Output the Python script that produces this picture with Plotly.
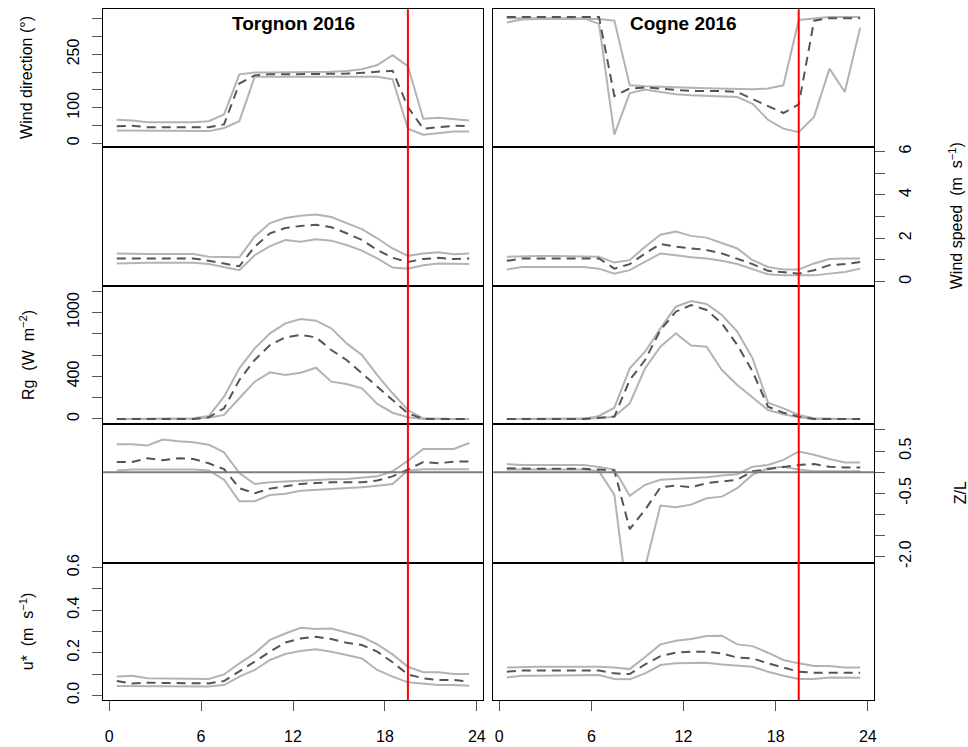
import plotly.graph_objects as go

hours = [0.5, 1.5, 2.5, 3.5, 4.5, 5.5, 6.5, 7.5, 8.5, 9.5, 10.5, 11.5,
         12.5, 13.5, 14.5, 15.5, 16.5, 17.5, 18.5, 19.5, 20.5, 21.5, 22.5, 23.5]
x_ticks = [0, 6, 12, 18, 24]
sunset_hour = 19.5
site_titles = ["Torgnon 2016", "Cogne 2016"]

# Wind direction (deg)
tor_wd_hi = [66, 64, 59, 59, 59, 59, 62, 81, 194, 199, 199, 199, 200, 200, 201, 203, 208, 220, 248, 217, 69, 72, 69, 64]
tor_wd_mean = [48, 49, 45, 45, 45, 45, 45, 53, 168, 191, 194, 194, 194, 194, 194, 196, 198, 202, 204, 102, 41, 45, 49, 48]
tor_wd_lo = [36, 36, 34, 34, 34, 34, 34, 43, 62, 187, 187, 187, 187, 187, 187, 187, 187, 187, 180, 41, 24, 29, 33, 33]
cog_wd_hi = [340, 348, 350, 350, 350, 350, 350, 345, 163, 160, 158, 157, 156, 155, 154, 153, 152, 154, 163, 347, 352, 355, 355, 355]
cog_wd_mean = [355, 355, 355, 355, 355, 355, 355, 133, 154, 157, 154, 151, 147, 147, 147, 144, 125, 104, 85, 109, 345, 352, 352, 352]
cog_wd_lo = [352, 352, 352, 352, 352, 352, 336, 24, 141, 151, 144, 138, 135, 133, 132, 130, 111, 66, 41, 31, 74, 210, 144, 325]

# Wind speed (m/s)
tor_ws_hi = [1.30, 1.27, 1.27, 1.27, 1.27, 1.27, 1.15, 1.12, 1.12, 2.08, 2.70, 2.93, 3.04, 3.09, 2.98, 2.70, 2.42, 2.00, 1.53, 1.19, 1.30, 1.35, 1.26, 1.30]
tor_ws_mean = [1.07, 1.07, 1.07, 1.07, 1.07, 1.07, 0.96, 0.84, 0.71, 1.61, 2.23, 2.47, 2.57, 2.62, 2.51, 2.23, 1.92, 1.46, 1.10, 0.91, 1.04, 1.10, 1.04, 1.07]
tor_ws_lo = [0.84, 0.87, 0.87, 0.87, 0.87, 0.87, 0.81, 0.68, 0.53, 1.22, 1.64, 1.92, 1.84, 1.95, 1.89, 1.69, 1.43, 1.07, 0.65, 0.60, 0.76, 0.84, 0.84, 0.81]
cog_ws_hi = [1.15, 1.18, 1.18, 1.18, 1.18, 1.18, 1.15, 0.88, 0.99, 1.61, 2.16, 2.31, 2.11, 2.03, 1.77, 1.53, 0.99, 0.68, 0.56, 0.56, 0.84, 1.04, 1.07, 1.07]
cog_ws_mean = [0.96, 1.07, 1.07, 1.07, 1.07, 1.07, 1.07, 0.60, 0.81, 1.30, 1.74, 1.61, 1.53, 1.46, 1.30, 1.07, 0.81, 0.50, 0.42, 0.37, 0.53, 0.76, 0.81, 0.91]
cog_ws_lo = [0.56, 0.68, 0.68, 0.68, 0.68, 0.68, 0.60, 0.37, 0.53, 0.91, 1.30, 1.22, 1.12, 1.07, 0.96, 0.81, 0.56, 0.34, 0.29, 0.29, 0.29, 0.37, 0.45, 0.60]

# Global radiation (W/m2)
tor_rg_hi = [0, 0, 0, 0, 0, 6, 28, 209, 475, 662, 803, 897, 938, 922, 850, 709, 600, 412, 241, 84, 6, 0, 0, 0]
tor_rg_mean = [0, 0, 0, 0, 0, 0, 16, 100, 366, 553, 694, 766, 788, 766, 647, 553, 428, 303, 178, 53, 0, 0, 0, 0]
tor_rg_lo = [0, 0, 0, 0, 0, 3, 12, 38, 194, 350, 438, 413, 434, 481, 350, 328, 288, 141, 59, 16, 0, 0, 0, 0]
cog_rg_hi = [0, 0, 0, 0, 0, 0, 28, 106, 475, 631, 850, 1053, 1106, 1078, 975, 819, 569, 153, 100, 38, 6, 0, 0, 0]
cog_rg_mean = [0, 0, 0, 0, 0, 0, 12, 22, 366, 553, 834, 1006, 1069, 1022, 897, 694, 444, 116, 59, 22, 0, 0, 0, 0]
cog_rg_lo = [0, 0, 0, 0, 0, 0, 6, 22, 147, 475, 678, 803, 688, 678, 459, 319, 203, 84, 44, 16, 0, 0, 0, 0]

# Stability Z/L
tor_zl_hi = [0.66, 0.66, 0.63, 0.77, 0.73, 0.71, 0.65, 0.47, -0.02, -0.28, -0.24, -0.22, -0.20, -0.18, -0.17, -0.16, -0.13, -0.10, 0.02, 0.27, 0.55, 0.55, 0.55, 0.69]
tor_zl_mean = [0.24, 0.24, 0.33, 0.28, 0.33, 0.31, 0.21, 0.07, -0.38, -0.50, -0.39, -0.34, -0.28, -0.26, -0.24, -0.24, -0.24, -0.20, -0.10, 0.06, 0.24, 0.21, 0.25, 0.25]
tor_zl_lo = [0.04, 0.06, 0.06, 0.06, 0.06, 0.06, 0.04, -0.18, -0.69, -0.69, -0.54, -0.51, -0.44, -0.42, -0.39, -0.38, -0.36, -0.32, -0.28, 0.04, 0.07, 0.07, 0.07, 0.07]
cog_zl_hi = [0.19, 0.17, 0.17, 0.17, 0.17, 0.17, 0.12, 0.06, -0.56, -0.30, -0.18, -0.16, -0.14, -0.12, -0.08, -0.05, 0.13, 0.17, 0.29, 0.49, 0.41, 0.31, 0.23, 0.23]
cog_zl_mean = [0.09, 0.08, 0.08, 0.08, 0.08, 0.08, 0.06, 0.04, -1.35, -0.89, -0.36, -0.32, -0.36, -0.26, -0.22, -0.18, 0.02, 0.07, 0.12, 0.17, 0.19, 0.13, 0.11, 0.11]
cog_zl_lo = [0.06, 0.06, 0.06, 0.06, 0.06, 0.06, 0.02, -0.54, -3.40, -2.25, -0.79, -0.83, -0.77, -0.62, -0.58, -0.38, -0.06, 0.09, 0.13, 0.06, 0.02, 0.02, 0.02, 0.02]

# Friction velocity u* (m/s)
tor_us_hi = [0.088, 0.092, 0.080, 0.080, 0.080, 0.080, 0.077, 0.098, 0.150, 0.197, 0.260, 0.290, 0.317, 0.311, 0.314, 0.295, 0.275, 0.239, 0.192, 0.134, 0.108, 0.108, 0.100, 0.100]
tor_us_mean = [0.067, 0.056, 0.059, 0.059, 0.059, 0.059, 0.056, 0.067, 0.111, 0.158, 0.205, 0.248, 0.267, 0.275, 0.264, 0.247, 0.236, 0.205, 0.155, 0.098, 0.080, 0.072, 0.072, 0.064]
tor_us_lo = [0.044, 0.044, 0.044, 0.044, 0.044, 0.044, 0.041, 0.048, 0.088, 0.119, 0.166, 0.194, 0.208, 0.216, 0.205, 0.189, 0.173, 0.119, 0.088, 0.061, 0.056, 0.048, 0.048, 0.045]
cog_us_hi = [0.131, 0.134, 0.134, 0.134, 0.134, 0.134, 0.134, 0.130, 0.123, 0.180, 0.239, 0.256, 0.264, 0.278, 0.280, 0.239, 0.231, 0.200, 0.166, 0.150, 0.138, 0.138, 0.131, 0.130]
cog_us_mean = [0.111, 0.116, 0.116, 0.116, 0.116, 0.116, 0.116, 0.103, 0.100, 0.145, 0.184, 0.200, 0.205, 0.205, 0.197, 0.177, 0.173, 0.150, 0.130, 0.111, 0.106, 0.106, 0.106, 0.106]
cog_us_lo = [0.084, 0.092, 0.092, 0.092, 0.092, 0.092, 0.095, 0.077, 0.075, 0.103, 0.142, 0.150, 0.150, 0.153, 0.145, 0.139, 0.134, 0.111, 0.092, 0.077, 0.077, 0.084, 0.083, 0.083]

# Y axis ticks (all tick marks) and labelled ticks per row
wd_ticks = [0, 50, 100, 150, 200, 250, 300, 350]
wd_label_vals = [0, 100, 250]
wd_labels = ["0", "100", "250"]
ws_ticks = [0, 1, 2, 3, 4, 5, 6]
ws_label_vals = [0, 2, 4, 6]
ws_labels = ["0", "2", "4", "6"]
rg_ticks = [0, 200, 400, 600, 800, 1000, 1200]
rg_label_vals = [0, 400, 1000]
rg_labels = ["0", "400", "1000"]
zl_ticks = [-2.0, -1.5, -1.0, -0.5, 0.0, 0.5, 1.0]
zl_label_vals = [-2.0, -0.5, 0.5]
zl_labels = ["-2.0", "-0.5", "0.5"]
us_ticks = [0, 0.1, 0.2, 0.3, 0.4, 0.5, 0.6]
us_label_vals = [0, 0.2, 0.4, 0.6]
us_labels = ["0.0", "0.2", "0.4", "0.6"]

W, H = 968, 747
FONT = "Liberation Sans, Arial, Helvetica, sans-serif"

rows = [
    dict(data=[(tor_wd_hi, tor_wd_lo, tor_wd_mean), (cog_wd_hi, cog_wd_lo, cog_wd_mean)],
         rng=[-9.3, 377], ticks=wd_ticks, lv=wd_label_vals, labels=wd_labels, side="left",
         title="Wind direction (°)"),
    dict(data=[(tor_ws_hi, tor_ws_lo, tor_ws_mean), (cog_ws_hi, cog_ws_lo, cog_ws_mean)],
         rng=[-0.2, 6.23], ticks=ws_ticks, lv=ws_label_vals, labels=ws_labels, side="right",
         title="Wind speed  (m  s<sup>−1</sup>)"),
    dict(data=[(tor_rg_hi, tor_rg_lo, tor_rg_mean), (cog_rg_hi, cog_rg_lo, cog_rg_mean)],
         rng=[-47, 1247], ticks=rg_ticks, lv=rg_label_vals, labels=rg_labels, side="left",
         title="Rg  (W  m<sup>−2</sup>)"),
    dict(data=[(tor_zl_hi, tor_zl_lo, tor_zl_mean), (cog_zl_hi, cog_zl_lo, cog_zl_mean)],
         rng=[-2.14, 1.14], ticks=zl_ticks, lv=zl_label_vals, labels=zl_labels, side="right",
         title="Z/L"),
    dict(data=[(tor_us_hi, tor_us_lo, tor_us_mean), (cog_us_hi, cog_us_lo, cog_us_mean)],
         rng=[-0.022, 0.6235], ticks=us_ticks, lv=us_label_vals, labels=us_labels, side="left",
         title="u*  (m  s<sup>−1</sup>)"),
]

# pixel geometry
col_px = [(102.7, 483.3), (492.7, 874.3)]
row_px = [(9.3, 146.5), (146.5, 286.0), (286.0, 424.0), (424.0, 562.5), (562.5, 700.0)]

fig = go.Figure()
layout = {}
GREY = "#b3b3b3"
DARK = "#555555"
TICKC = "#555555"

for r, row in enumerate(rows):
    for c in range(2):
        k = r * 2 + c + 1
        xa = "x" if k == 1 else f"x{k}"
        ya = "y" if k == 1 else f"y{k}"
        hi, lo, mean = row["data"][c]
        for series in (hi, lo):
            fig.add_trace(go.Scatter(x=hours, y=series, mode="lines", xaxis=xa, yaxis=ya,
                                     line=dict(color=GREY, width=2), showlegend=False,
                                     hoverinfo="skip"))
        fig.add_trace(go.Scatter(x=hours, y=mean, mode="lines", xaxis=xa, yaxis=ya,
                                 line=dict(color=DARK, width=2, dash="9px,6px"),
                                 showlegend=False, hoverinfo="skip"))
        x0, x1 = col_px[c]
        y0, y1 = row_px[r]
        bottom = (r == 4)
        layout["xaxis" if k == 1 else f"xaxis{k}"] = dict(
            domain=[x0 / W, x1 / W], anchor=ya, range=[-0.42, 24.42],
            automargin=False,
            showline=True, mirror=True, linecolor="black", linewidth=1.3,
            showgrid=False, zeroline=False,
            tickmode="array", tickvals=x_ticks,
            ticks="outside" if bottom else "", ticklen=10, tickcolor=TICKC,
            showticklabels=bottom, tickfont=dict(size=16, color="black", family=FONT),
            ticklabelstandoff=12,
        )
        show_y = (row["side"] == "left" and c == 0) or (row["side"] == "right" and c == 1)
        yax = dict(
            domain=[1 - y1 / H, 1 - y0 / H], anchor=xa, range=row["rng"],
            side=row["side"], automargin=False,
            showline=True, mirror=True, linecolor="black", linewidth=1.3,
            showgrid=False, zeroline=False,
            tickmode="array", tickvals=row["lv"], ticktext=row["labels"],
            ticks="outside" if show_y else "", ticklen=10, tickcolor=TICKC,
            showticklabels=show_y, tickangle=-90,
            tickfont=dict(size=16, color="black", family=FONT),
            ticklabelstandoff=6,
        )
        if show_y:
            yax["minor"] = dict(tickmode="array", tickvals=row["ticks"], ticks="outside",
                                ticklen=10, tickcolor=TICKC, showgrid=False)
        layout["yaxis" if k == 1 else f"yaxis{k}"] = yax

shapes = []
# zero line in Z/L panels
for c in range(2):
    k = 3 * 2 + c + 1
    shapes.append(dict(type="line", xref=f"x{k} domain", yref=f"y{k}", x0=0, x1=1, y0=0, y1=0,
                       line=dict(color="#7f7f7f", width=2), layer="above"))
# red vertical line (sunset) spanning each column
for c in range(2):
    k = c + 1
    xa = "x" if k == 1 else f"x{k}"
    shapes.append(dict(type="line", xref=xa, yref="paper", x0=sunset_hour, x1=sunset_hour,
                       y0=1 - row_px[4][1] / H, y1=1 - row_px[0][0] / H,
                       line=dict(color="#ff0000", width=2), layer="above"))

annotations = []
for c in range(2):
    x0, x1 = col_px[c]
    annotations.append(dict(text=f"<b>{site_titles[c]}</b>", xref="paper", yref="paper",
                            x=(x0 + x1) / 2 / W, y=1 - 23 / H, showarrow=False,
                            xanchor="center", yanchor="middle",
                            font=dict(size=19, color="black", family=FONT)))
title_x = {"left": 27, "right": 956}
for r, row in enumerate(rows):
    y0, y1 = row_px[r]
    xp = title_x[row["side"]]
    if r == 3:
        xp = 960
    annotations.append(dict(text=row["title"], xref="paper", yref="paper",
                            x=xp / W, y=1 - (y0 + y1) / 2 / H, showarrow=False,
                            textangle=-90, xanchor="center", yanchor="middle",
                            font=dict(size=16, color="black", family=FONT)))

fig.update_layout(
    width=W, height=H, margin=dict(l=0, r=0, t=0, b=0, autoexpand=False),
    paper_bgcolor="white", plot_bgcolor="white",
    showlegend=False, shapes=shapes, annotations=annotations,
    font=dict(family=FONT, color="black"),
    **layout,
)

fig.write_html(
    "out.html",
    config={"displayModeBar": False},
    post_script="document.body.style.margin='0';document.body.style.padding='0';"
                "document.documentElement.style.overflow='hidden';",
)
